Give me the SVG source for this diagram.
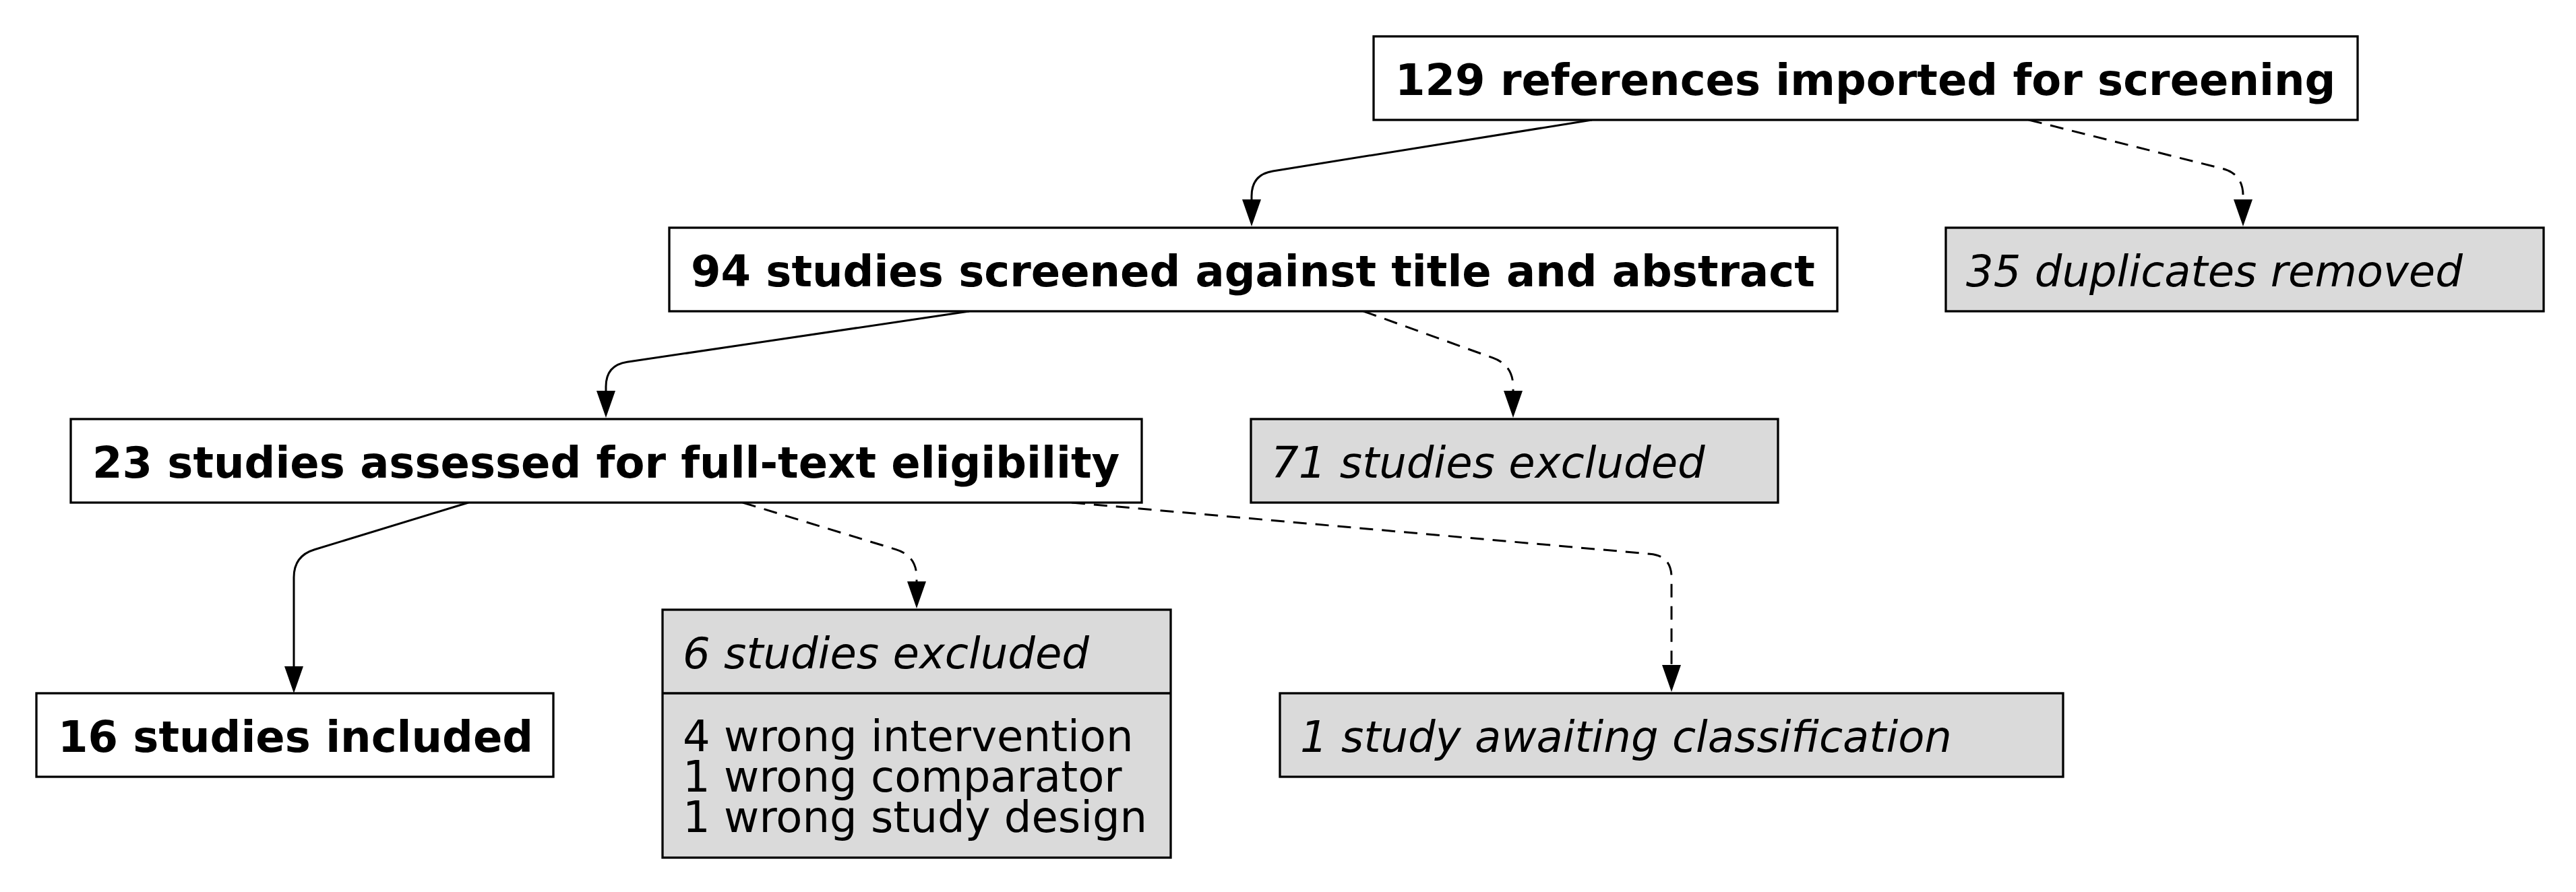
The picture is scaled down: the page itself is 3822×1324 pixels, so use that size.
<svg xmlns="http://www.w3.org/2000/svg" width="3822" height="1324" viewBox="0 0 3822 1324">
<style>
.box{stroke:#000;stroke-width:3.3}
.w{fill:#fff}
.g{fill:#dadada}
.t{font-family:"DejaVu Sans",sans-serif;font-size:64px;fill:#000}
.b{font-weight:bold}
.i{font-style:italic}
.c{fill:none;stroke:#000;stroke-width:3}
.d{stroke-dasharray:20,13}
</style>
<defs>
<marker id="ah" markerUnits="userSpaceOnUse" markerWidth="40" markerHeight="28" refX="0" refY="14" viewBox="0 0 40 28" orient="auto" overflow="visible">
<path d="M0,0 L40,14 L0,28 Z" fill="#000"/>
</marker>
</defs>
<rect width="3822" height="1324" fill="#fff"/>
<g id="connectors">
<path class="c" marker-end="url(#ah)" d="M2362,178 L1888.6,253.9 Q1857,259 1857,291 L1857,296"/>
<path class="c" marker-end="url(#ah)" d="M1438,462 L930.6,537.3 Q899,542 899,574 L899,580"/>
<path class="c" marker-end="url(#ah)" d="M695,746 L466.6,815.7 Q436,825 436,857 L436,989"/>
<path class="c d" marker-end="url(#ah)" d="M3010,178 L3297,250.2 Q3328,258 3328,290 L3328,296"/>
<path class="c d" marker-end="url(#ah)" d="M2023,462 L2214.9,531.2 Q2245,542 2245,574 L2245,580"/>
<path class="c d" marker-end="url(#ah)" d="M1102,746 L1329.4,815.6 Q1360,825 1360,857 L1360,863"/>
<path class="c d" marker-end="url(#ah)" d="M1590,746 L2448.1,822.2 Q2480,825 2480,857 L2480,987"/>
</g>
<g id="n1">
<rect class="box w" x="2038" y="54" width="1460" height="124"/>
<text class="t b" x="2070" y="141">129 references imported for screening</text>
</g>
<g id="n2">
<rect class="box w" x="993" y="338" width="1733" height="124"/>
<text class="t b" x="1025" y="425">94 studies screened against title and abstract</text>
</g>
<g id="n35">
<rect class="box g" x="2887" y="338" width="887" height="124"/>
<text class="t i" x="2917" y="425">35 duplicates removed</text>
</g>
<g id="n3">
<rect class="box w" x="105" y="622" width="1589" height="124"/>
<text class="t b" x="137" y="709">23 studies assessed for full-text eligibility</text>
</g>
<g id="n71">
<rect class="box g" x="1856" y="622" width="782" height="124"/>
<text class="t i" x="1886" y="709">71 studies excluded</text>
</g>
<g id="n16">
<rect class="box w" x="54" y="1029" width="767" height="124"/>
<text class="t b" x="86" y="1116">16 studies included</text>
</g>
<g id="n6">
<rect class="box g" x="983" y="905" width="754" height="368"/>
<line x1="983" y1="1029" x2="1737" y2="1029" stroke="#000" stroke-width="3.3"/>
<text class="t i" x="1013" y="992">6 studies excluded</text>
<text class="t" x="1013" y="1115">4 wrong intervention</text>
<text class="t" x="1013" y="1175">1 wrong comparator</text>
<text class="t" x="1013" y="1235">1 wrong study design</text>
</g>
<g id="n1s">
<rect class="box g" x="1899" y="1029" width="1162" height="124"/>
<text class="t i" x="1929" y="1116">1 study awaiting classification</text>
</g>
</svg>
